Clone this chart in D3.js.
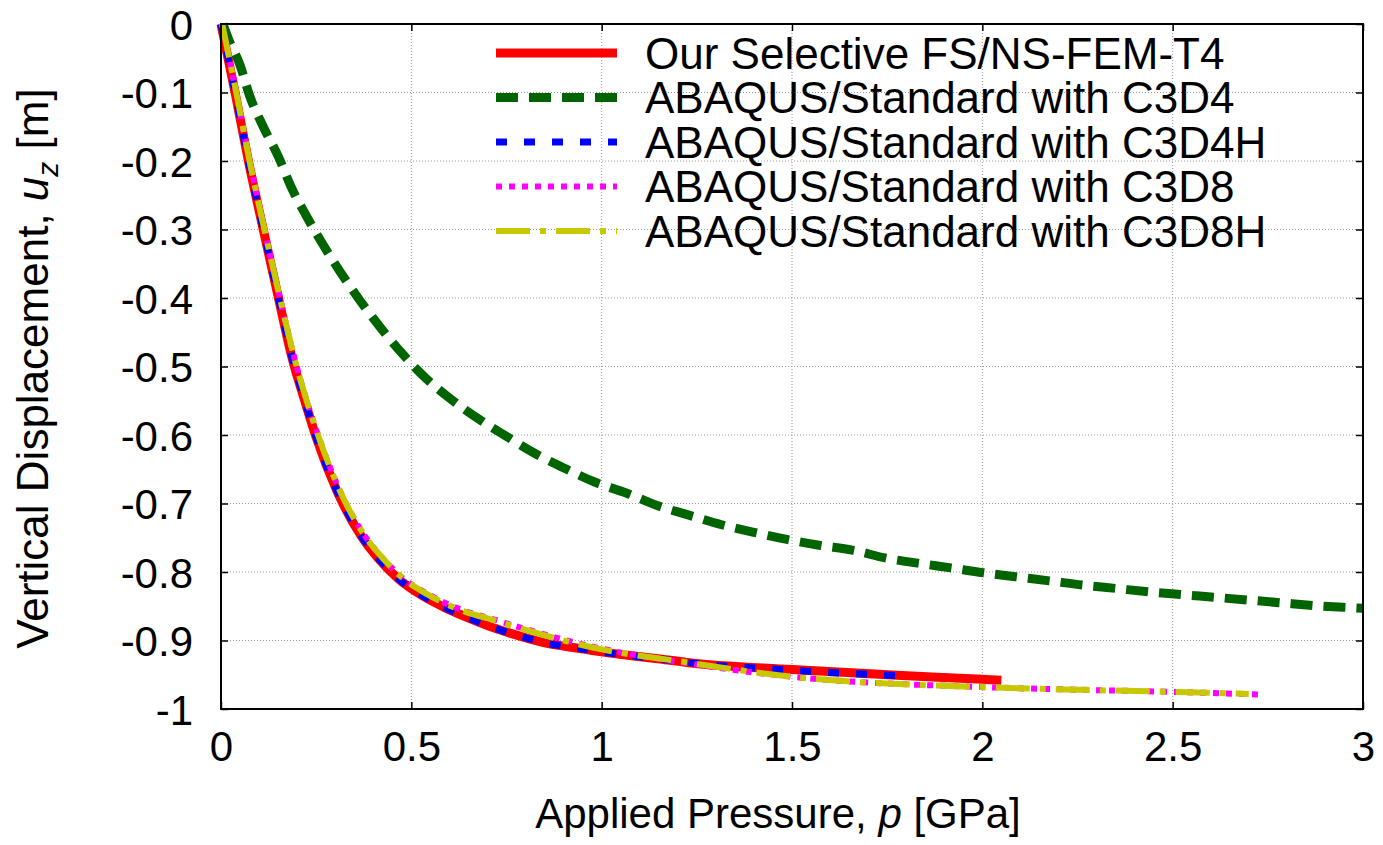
<!DOCTYPE html>
<html>
<head>
<meta charset="utf-8">
<script src="https://cdn.jsdelivr.net/npm/d3@7"></script>
<style>
  body { margin: 0; background: #fff; }
  text { font-family: "Liberation Sans", Arial, sans-serif; fill: #000; }
</style>
</head>
<body>
<div id="chart"></div>
<script>
// Vertical displacement vs applied pressure

// Our Selective FS/NS-FEM-T4
var fsPressure = [0, 0.037, 0.072, 0.111, 0.151, 0.187, 0.22, 0.251, 0.304, 0.370, 0.413, 0.466, 0.527, 0.588, 0.654, 0.724, 0.794, 0.864, 0.934, 1.004, 1.074, 1.153, 1.223, 1.5, 1.75, 2.0, 2.05];
var fsDisp     = [0, -0.1, -0.2, -0.3, -0.4, -0.488, -0.55, -0.605, -0.681, -0.749, -0.780, -0.810, -0.834, -0.852, -0.868, -0.883, -0.895, -0.905, -0.911, -0.917, -0.922, -0.927, -0.932, -0.9425, -0.950, -0.9566, -0.958];

// ABAQUS C3D4
var c3d4Pressure = [0.005, 0.019, 0.050, 0.076, 0.111, 0.151, 0.186, 0.225, 0.269, 0.38, 0.479, 0.536, 0.600, 0.678, 0.750, 0.825, 0.904, 0.983, 1.066, 1.146, 1.229, 1.315, 1.400, 1.483, 1.571, 1.658, 1.749, 1.830, 1.917, 2.002, 2.088, 2.176, 2.263, 2.351, 2.438, 2.524, 2.612, 2.699, 2.786, 2.873, 2.966, 3.0];
var c3d4Disp     = [0, -0.021, -0.060, -0.106, -0.150, -0.194, -0.240, -0.281, -0.323, -0.415, -0.483, -0.516, -0.546, -0.577, -0.602, -0.627, -0.649, -0.669, -0.685, -0.703, -0.717, -0.731, -0.742, -0.752, -0.761, -0.768, -0.780, -0.787, -0.794, -0.801, -0.807, -0.813, -0.819, -0.824, -0.829, -0.833, -0.837, -0.841, -0.845, -0.849, -0.852, -0.853];

// ABAQUS C3D4H
var c3d4hPressure = [0, 0.037, 0.072, 0.111, 0.151, 0.187, 0.22, 0.251, 0.304, 0.370, 0.413, 0.466, 0.527, 0.588, 0.654, 0.724, 0.794, 0.864, 0.934, 1.004, 1.074, 1.153, 1.223, 1.5, 1.80];
var c3d4hDisp     = [0, -0.1, -0.2, -0.3, -0.4, -0.488, -0.55, -0.605, -0.681, -0.749, -0.780, -0.810, -0.834, -0.852, -0.868, -0.883, -0.895, -0.905, -0.911, -0.917, -0.922, -0.927, -0.932, -0.9435, -0.952];

// ABAQUS C3D8
var c3d8Pressure = [0.003, 0.040, 0.075, 0.114, 0.155, 0.193, 0.258, 0.312, 0.38, 0.425, 0.48, 0.54, 0.6, 0.733, 1.0, 1.2, 1.5, 2.0, 2.26, 2.5, 2.735];
var c3d8Disp     = [0, -0.1, -0.2, -0.3, -0.4, -0.488, -0.605, -0.681, -0.749, -0.780, -0.810, -0.831, -0.848, -0.872, -0.912, -0.931, -0.953, -0.968, -0.972, -0.975, -0.979];

// ABAQUS C3D8H
var c3d8hPressure = [0.003, 0.040, 0.075, 0.114, 0.155, 0.193, 0.258, 0.312, 0.38, 0.425, 0.48, 0.54, 0.6, 0.733, 1.0, 1.2, 1.5, 2.0, 2.26, 2.5, 2.70];
var c3d8hDisp     = [0, -0.1, -0.2, -0.3, -0.4, -0.488, -0.605, -0.681, -0.749, -0.780, -0.810, -0.832, -0.849, -0.873, -0.913, -0.930, -0.953, -0.968, -0.972, -0.975, -0.978];

var xTicks = [0, 0.5, 1, 1.5, 2, 2.5, 3];
var yTicks = [0, -0.1, -0.2, -0.3, -0.4, -0.5, -0.6, -0.7, -0.8, -0.9, -1];

var seriesNames = ["Our Selective FS/NS-FEM-T4", "ABAQUS/Standard with C3D4", "ABAQUS/Standard with C3D4H",
                   "ABAQUS/Standard with C3D8", "ABAQUS/Standard with C3D8H"];

var series = [
  {name: seriesNames[0], p: fsPressure,    u: fsDisp,    color: "#ff0000", width: 9, dash: null},
  {name: seriesNames[1], p: c3d4Pressure,  u: c3d4Disp,  color: "#006400", width: 9, dash: "22,11"},
  {name: seriesNames[2], p: c3d4hPressure, u: c3d4hDisp, color: "#0000ff", width: 7, dash: "11,17"},
  {name: seriesNames[3], p: c3d8Pressure,  u: c3d8Disp,  color: "#ff00ff", width: 6, dash: "6,7"},
  {name: seriesNames[4], p: c3d8hPressure, u: c3d8hDisp, color: "#c8c800", width: 6, dash: "34,10,6,10"}
];

var width = 1383, height = 845;
var margin = {top: 24, left: 221, right: 20, bottom: 136};
var w = width - margin.left - margin.right;
var h = height - margin.top - margin.bottom;

var svg = d3.select("#chart").append("svg")
    .attr("width", width)
    .attr("height", height);

var g = svg.append("g")
    .attr("transform", "translate(" + margin.left + "," + margin.top + ")");

var x_scale = d3.scaleLinear().domain([0, 3]).range([0, w]);
var y_scale = d3.scaleLinear().domain([-1, 0]).range([h, 0]);

// grid
g.append("g").attr("class", "grid")
  .selectAll("line.gx")
  .data(xTicks.slice(1, -1))
  .enter().append("line")
  .attr("x1", function(d) { return x_scale(d); })
  .attr("x2", function(d) { return x_scale(d); })
  .attr("y1", 0).attr("y2", h)
  .attr("stroke", "#999").attr("stroke-width", 1).attr("stroke-dasharray", "1,2");

g.append("g").attr("class", "grid")
  .selectAll("line.gy")
  .data(yTicks.slice(1, -1))
  .enter().append("line")
  .attr("y1", function(d) { return y_scale(d); })
  .attr("y2", function(d) { return y_scale(d); })
  .attr("x1", 0).attr("x2", w)
  .attr("stroke", "#999").attr("stroke-width", 1).attr("stroke-dasharray", "1,2");

// axes (ticks pointing inwards, mirrored)
var tickLen = 7;
// plain hyphen for negatives, like the original
var fmt = function(d) { return String(d); };
var xAxis = d3.axisBottom(x_scale).tickValues(xTicks).tickSize(-tickLen).tickPadding(22).tickFormat(fmt);
var xAxisTop = d3.axisTop(x_scale).tickValues(xTicks).tickSize(-tickLen).tickFormat("");
var yAxis = d3.axisLeft(y_scale).tickValues(yTicks).tickSize(-tickLen).tickPadding(28).tickFormat(fmt);
var yAxisRight = d3.axisRight(y_scale).tickValues(yTicks).tickSize(-tickLen).tickFormat("");

function styleAxis(sel) {
  sel.select(".domain").remove();
  sel.selectAll(".tick line").attr("stroke", "#000").attr("stroke-width", 1.5);
  sel.selectAll(".tick text")
    .style("font-family", "'Liberation Sans', Arial, sans-serif")
    .style("font-size", "42px")
    .attr("fill", "#000");
}

g.append("g").attr("class", "axis axis-x")
  .attr("transform", "translate(0," + h + ")")
  .call(xAxis).call(styleAxis);
g.append("g").attr("class", "axis axis-x-top").call(xAxisTop).call(styleAxis);
g.append("g").attr("class", "axis axis-y").call(yAxis).call(styleAxis);
g.append("g").attr("class", "axis axis-y-right")
  .attr("transform", "translate(" + w + ",0)")
  .call(yAxisRight).call(styleAxis);

g.selectAll(".axis-y .tick text").attr("dy", "0.36em");

// curves
g.append("clipPath").attr("id", "clip")
  .append("rect").attr("x", -6).attr("y", -6).attr("width", w + 6).attr("height", h + 6);

var line = d3.line()
  .x(function(d) { return x_scale(d.p); })
  .y(function(d) { return y_scale(d.u); })
  .curve(d3.curveMonotoneX);

var curves = g.append("g").attr("clip-path", "url(#clip)");
curves.selectAll("path.line")
  .data(series)
  .enter().append("path")
  .attr("class", "line")
  .attr("fill", "none")
  .attr("stroke", function(d) { return d.color; })
  .attr("stroke-width", function(d) { return d.width; })
  .attr("stroke-dasharray", function(d) { return d.dash; })
  .attr("stroke-linecap", "butt")
  .attr("stroke-linejoin", "round")
  .attr("d", function(d) {
    return line(d.p.map(function(v, i) { return {p: v, u: d.u[i]}; }));
  });

// border
g.append("rect")
  .attr("x", 0).attr("y", 0).attr("width", w).attr("height", h)
  .attr("fill", "none").attr("stroke", "#000").attr("stroke-width", 2);

// legend
var legend = g.selectAll(".legend")
  .data(series)
  .enter().append("g")
  .attr("class", "legend")
  .attr("transform", function(d, i) { return "translate(0," + (29 + i * 44.5) + ")"; });

legend.append("line")
  .attr("x1", 275).attr("x2", 396)
  .attr("y1", 0).attr("y2", 0)
  .attr("stroke", function(d) { return d.color; })
  .attr("stroke-width", function(d) { return d.width; })
  .attr("stroke-dasharray", function(d) { return d.dash; });

legend.append("text")
  .attr("x", 424)
  .attr("y", 0)
  .attr("dy", "0.36em")
  .style("font-size", "44px")
  .text(function(d) { return d.name; });

// axis titles
var xt = svg.append("text")
  .attr("x", margin.left + w / 2 - 14)
  .attr("y", 828)
  .attr("text-anchor", "middle")
  .style("font-size", "42px");
xt.append("tspan").text("Applied Pressure, ");
xt.append("tspan").style("font-style", "italic").text("p");
xt.append("tspan").text(" [GPa]");

var yt = svg.append("text")
  .attr("transform", "translate(48," + (margin.top + h / 2 + 2) + ") rotate(-90)")
  .attr("text-anchor", "middle")
  .style("font-size", "44px");
yt.append("tspan").text("Vertical Displacement, ");
yt.append("tspan").style("font-style", "italic").text("u");
yt.append("tspan").style("font-style", "italic").style("font-size", "30px").attr("dy", 10).text("z");
yt.append("tspan").attr("dy", -10).text(" [m]");
</script>
</body>
</html>
